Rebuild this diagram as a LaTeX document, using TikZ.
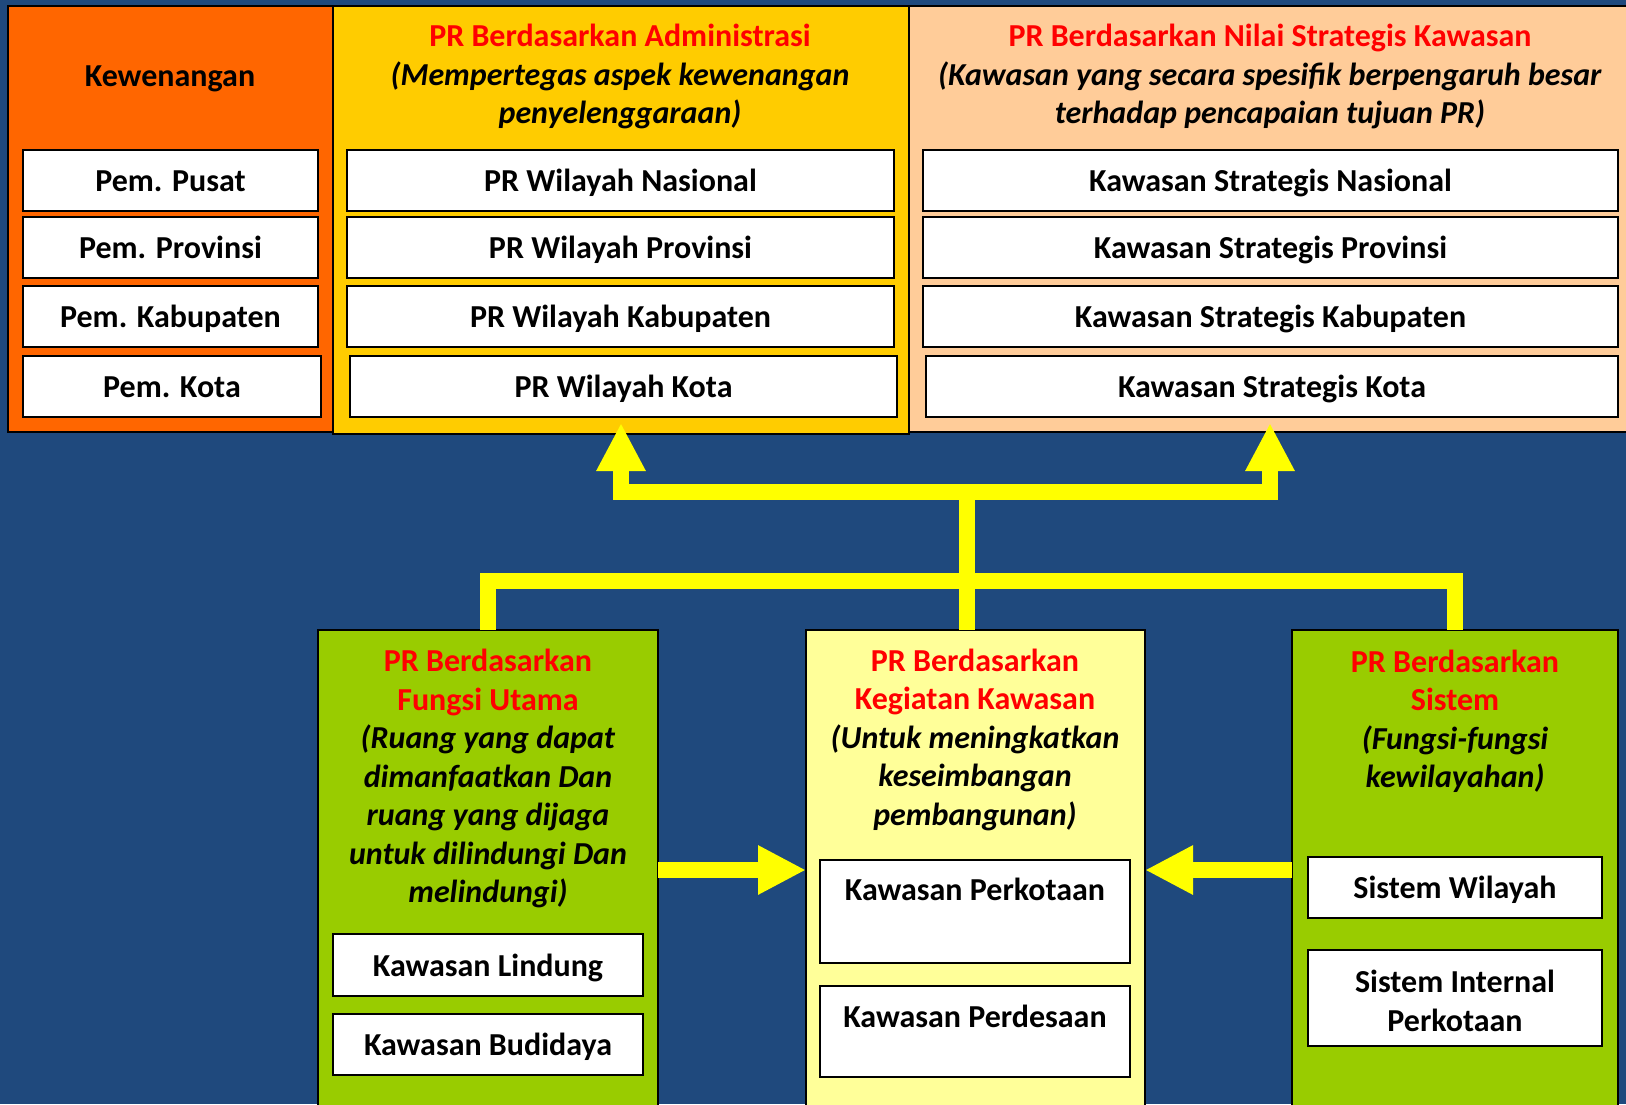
\documentclass[tikz,border=0pt]{standalone}
\usepackage{fontspec}
\setmainfont{Carlito}
\usetikzlibrary{arrows.meta}
\definecolor{bgblue}{RGB}{31,73,125}
\definecolor{korange}{RGB}{255,102,0}
\definecolor{kyellow}{RGB}{255,204,0}
\definecolor{kpeach}{RGB}{255,204,153}
\definecolor{kgreen}{RGB}{153,204,0}
\definecolor{klight}{RGB}{255,255,153}
\definecolor{kred}{RGB}{255,0,0}
\definecolor{karrow}{RGB}{255,255,0}
\begin{document}
\begin{tikzpicture}[x=1pt,y=-1pt,
  every node/.style={font=\bfseries\fontsize{32}{38.5}\selectfont, inner sep=0pt, outer sep=0pt},
  panel/.style={draw=black, line width=2.5pt, anchor=north west},
  oneline/.style={text height=26pt, text depth=4pt},
  wbox/.style={draw=black, line width=2pt, fill=white, anchor=north west, oneline},
  ttl/.style={align=center},
  ybar/.style={draw=karrow, line width=16pt, line join=miter},
  yarrow/.style={ybar, -{Triangle[width=46pt,length=48pt]}},
]
\clip (0,0) rectangle (1626,1104);
\fill[bgblue] (0,0) rectangle (1626,1104);

% top panels
\node[panel, fill=korange, minimum width=325pt, minimum height=426pt] (kew) at (8,6) {};
\node[panel, fill=kyellow, minimum width=576pt, minimum height=428pt] (adm) at (333,6) {};
\node[panel, fill=kpeach, minimum width=725pt, minimum height=426pt] (str) at (909,6) {};

\node[oneline] (kewt) at (170,75) {Kewenangan};
\node[ttl] (admt) at (620,76.5) {\textcolor{kred}{PR Berdasarkan Administrasi}\\\textit{(Mempertegas aspek kewenangan}\\\textit{penyelenggaraan)}};
\node[ttl] (strt) at (1270,76.5) {\textcolor{kred}{PR Berdasarkan Nilai Strategis Kawasan}\\\textit{(Kawasan yang secara spesifik berpengaruh besar}\\\textit{terhadap pencapaian tujuan PR)}};

% kewenangan boxes
\node[wbox, minimum width=295pt, minimum height=61pt] (k1) at (23,150) {Pem. Pusat};
\node[wbox, minimum width=295pt, minimum height=61pt] (k2) at (23,217) {Pem. Provinsi};
\node[wbox, minimum width=295pt, minimum height=61pt] (k3) at (23,286) {Pem. Kabupaten};
\node[wbox, minimum width=298pt, minimum height=61pt] (k4) at (23,356) {Pem. Kota};

% administrasi boxes
\node[wbox, minimum width=547pt, minimum height=61pt] (a1) at (347,150) {PR Wilayah Nasional};
\node[wbox, minimum width=547pt, minimum height=61pt] (a2) at (347,217) {PR Wilayah Provinsi};
\node[wbox, minimum width=547pt, minimum height=61pt] (a3) at (347,286) {PR Wilayah Kabupaten};
\node[wbox, minimum width=547pt, minimum height=61pt] (a4) at (350,356) {PR Wilayah Kota};

% strategis boxes
\node[wbox, minimum width=695pt, minimum height=61pt] (s1) at (923,150) {Kawasan Strategis Nasional};
\node[wbox, minimum width=695pt, minimum height=61pt] (s2) at (923,217) {Kawasan Strategis Provinsi};
\node[wbox, minimum width=695pt, minimum height=61pt] (s3) at (923,286) {Kawasan Strategis Kabupaten};
\node[wbox, minimum width=692pt, minimum height=61pt] (s4) at (926,356) {Kawasan Strategis Kota};

% bottom panels
\node[panel, fill=kgreen, minimum width=340pt, minimum height=480pt] (fu) at (318,630) {};
\node[panel, fill=klight, minimum width=339pt, minimum height=480pt] (mid) at (806,630) {};
\node[panel, fill=kgreen, minimum width=326pt, minimum height=480pt] (sis) at (1292,630) {};

\node[ttl] (fut) at (488,778.5) {\textcolor{kred}{PR Berdasarkan}\\\textcolor{kred}{Fungsi Utama}\\\textit{(Ruang yang dapat}\\\textit{dimanfaatkan Dan}\\\textit{ruang yang dijaga}\\\textit{untuk dilindungi Dan}\\\textit{melindungi)}};
\node[ttl] (midt) at (975,739.5) {\textcolor{kred}{PR Berdasarkan}\\\textcolor{kred}{Kegiatan Kawasan}\\\textit{(Untuk meningkatkan}\\\textit{keseimbangan}\\\textit{pembangunan)}};
\node[ttl] (sist) at (1455,721.5) {\textcolor{kred}{PR Berdasarkan}\\\textcolor{kred}{Sistem}\\\textit{(Fungsi-fungsi}\\\textit{kewilayahan)}};

\node[wbox, minimum width=310pt, minimum height=62pt] (f1) at (333,934) {Kawasan Lindung};
\node[wbox, minimum width=310pt, minimum height=61pt] (f2) at (333,1014) {Kawasan Budidaya};

\node[wbox, minimum width=310pt, minimum height=103pt] (m1) at (820,860) {};
\node[oneline] (m1t) at ([yshift=-29.5pt]m1.north) {Kawasan Perkotaan};
\node[wbox, minimum width=310pt, minimum height=91pt] (m2) at (820,986) {};
\node[oneline] (m2t) at ([yshift=-30pt]m2.north) {Kawasan Perdesaan};

\node[wbox, minimum width=294pt, minimum height=61pt] (r1) at (1308,857) {Sistem Wilayah};
\node[wbox, minimum width=294pt, minimum height=96pt] (r2) at (1308,950) {};
\node[ttl] (r2t) at ([yshift=-3pt]r2.center) {Sistem Internal\\Perkotaan};

% connectors
\coordinate (hub) at (967,492);
\coordinate (tipA) at (621,423);
\coordinate (tipB) at (1270,423);
\draw[ybar] (mid.north -| hub) -- (hub);
\draw[yarrow] (hub) -| (tipA);
\draw[yarrow] (hub) -| (tipB);
\draw[ybar] (fu.north) -- ++(0,-49) -| (sis.north);
\draw[yarrow] (fu.east) -- (mid.west);
\draw[yarrow] (sis.west) -- (mid.east);
\end{tikzpicture}
\end{document}
